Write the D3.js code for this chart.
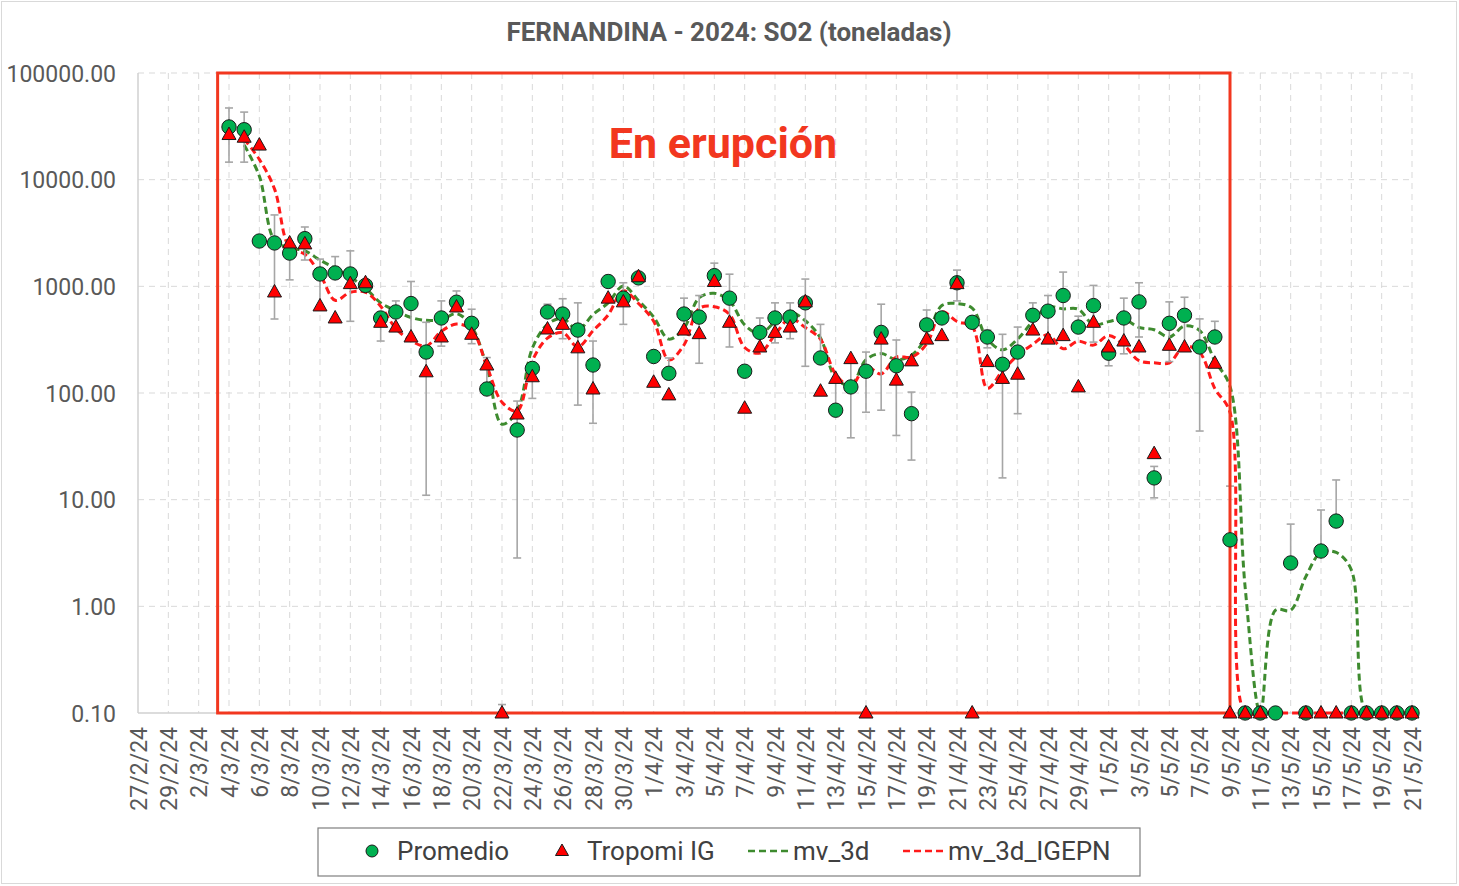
<!DOCTYPE html>
<html><head><meta charset="utf-8">
<script src="https://cdn.jsdelivr.net/npm/d3@7"></script>
<style>body{margin:0;background:#fff}svg{display:block}text{font-family:Roboto,"Liberation Sans",sans-serif}</style>
</head><body><svg id="c" width="1459" height="886"></svg>
<script>
const dates = ["4/3","5/3","6/3","7/3","8/3","9/3","10/3","11/3","12/3","13/3","14/3","15/3","16/3","17/3","18/3","19/3","20/3","21/3","22/3","23/3","24/3","25/3","26/3","27/3","28/3","29/3","30/3","31/3",
"1/4","2/4","3/4","4/4","5/4","6/4","7/4","8/4","9/4","10/4","11/4","12/4","13/4","14/4","15/4","16/4","17/4","18/4","19/4","20/4","21/4","22/4","23/4","24/4","25/4","26/4","27/4","28/4","29/4","30/4",
"1/5","2/5","3/5","4/5","5/5","6/5","7/5","8/5","9/5","10/5","11/5","12/5","13/5","14/5","15/5","16/5","17/5","18/5","19/5","20/5","21/5"];
const promedio = [31200,29400,2660,2550,2050,2800,1306,1335,1306,1020,505,575,690,242,505,710,450,109,null,45,170,575,550,389,183,1110,775,1200,
220,153,550,515,1260,775,160,370,505,515,700,213,69,114,160,370,180,64,435,505,1080,460,335,186,242,535,585,820,415,660,
236,505,715,16,450,535,270,335,4.2,0.1,0.1,0.1,2.55,0.1,3.3,6.3,0.1,0.1,0.1,0.1,0.1];
const tropomi = [26500,25000,21100,885,2550,2500,655,505,1060,1080,460,415,335,158,335,640,355,183,0.1,63.5,142,398,440,265,109,775,715,1230,
126,96,389,360,1110,460,72,270,370,415,715,104,137,210,0.1,320,132,200,320,345,1060,0.1,197,137,150,389,320,345,114,460,
270,307,270,27,280,270,null,190,0.1,0.1,0.1,null,null,0.1,0.1,0.1,0.1,0.1,0.1,0.1,0.1];
const errLow = [14600,14600,null,494,1150,1765,640,1335,470,null,307,575,307,11,275,710,290,109,0.1,2.84,89,575,323,77,52,1110,440,null,
null,153,550,190,1260,270,null,370,295,323,178,213,69,38,66,69,40,23.5,435,null,730,null,265,16,64,535,320,345,415,300,
180,233,335,10.4,197,270,44,335,4.2,null,null,null,2.55,null,3.3,6.3,null,null,null,null,null];
const errHigh = [47000,43000,null,4670,2600,3600,1800,1900,2150,null,505,730,1110,460,730,905,610,215,0.12,84,170,680,765,700,307,1260,1080,null,
null,213,775,820,1650,1300,null,505,700,700,1170,440,137,210,242,680,314,102,600,null,1420,null,389,355,415,700,820,1360,525,1020,
236,775,1080,20.5,715,790,495,470,13.4,null,null,null,5.9,null,8.0,15.3,null,null,null,null,null];
const mv3d = [null,21100,10800,2700,2300,2150,1760,1480,1220,960,700,590,510,480,486,555,420,175,51,68,263,440,500,390,545,700,1010,735,
515,320,406,780,860,732,435,360,463,573,476,327,138,118,205,234,205,226,335,660,690,625,320,254,321,470,640,615,610,437,
467,490,412,392,334,425,385,200,115,1.5,0.1,0.92,0.92,1.9,3.2,3.2,2.2,0.1,0.1,0.1,0.1];
const mv3dIGEPN = [null,24000,15500,8200,2300,2000,1300,740,880,880,650,403,310,276,378,443,393,179,82,68,201,327,368,271,383,540,907,690,
470,204,282,620,643,547,267,237,352,500,411,319,150,116,177,151,217,217,288,575,468,419,111,161,225,286,351,260,306,281,
346,282,201,192,192,275,240,110,66,0.1,0.1,0.1,0.1,0.1,0.1,0.1,0.1,0.1,0.1,0.1,0.1];
const yTicks = [0.1,1,10,100,1000,10000,100000];
const xStart = "27/2", xEnd = "21/5";
const eruption = ["2024-03-03T06:00:00Z","2024-05-09T00:00:00Z"];
const title = "FERNANDINA - 2024: SO2 (toneladas)";
const annotation = "En erupción";
const legendItems = ["Promedio","Tropomi IG","mv_3d","mv_3d_IGEPN"];

const parse = s => d3.utcParse("%d/%m/%Y")(s + "/2024");
const D = dates.map(parse);
const svg = d3.select("#c");
svg.append("rect").attr("x",1.5).attr("y",1.5).attr("width",1455).attr("height",882).attr("fill","#fff").attr("stroke","#d9d9d9");

const L = 138, R = 1412, T = 73, B = 713;
const x = d3.scaleUtc().domain([parse(xStart), parse(xEnd)]).range([L, R]);
const y = d3.scaleLog().domain([0.1, 100000]).range([B, T]);

// gridlines
const xTicks = d3.range(0, 85, 2).map(k => d3.utcDay.offset(parse(xStart), k));
const grid = svg.append("g");
grid.selectAll(".vg").data(xTicks.slice(1)).join("line")
  .attr("x1", d => x(d)).attr("x2", d => x(d)).attr("y1", T).attr("y2", B)
  .attr("stroke", "#d9d9d9").attr("stroke-dasharray", "6,5").attr("stroke-width", 1);
grid.selectAll(".hg").data(yTicks.slice(1)).join("line")
  .attr("x1", L).attr("x2", R).attr("y1", d => y(d)).attr("y2", d => y(d))
  .attr("stroke", "#d9d9d9").attr("stroke-dasharray", "6,5").attr("stroke-width", 1);
svg.append("line").attr("x1", L).attr("x2", L).attr("y1", T).attr("y2", B).attr("stroke", "#d0d0d0").attr("stroke-width", 1.5);
svg.append("line").attr("x1", L).attr("x2", R).attr("y1", B).attr("y2", B).attr("stroke", "#d0d0d0").attr("stroke-width", 1.5);

// y axis labels
const yAxis = d3.axisLeft(y).tickValues(yTicks).tickFormat(d3.format(".2f")).tickSize(0).tickPadding(22);
const ya = svg.append("g").attr("transform", `translate(${L},0)`).call(yAxis);
ya.select(".domain").remove();
ya.selectAll("text").attr("fill", "#595959").style("font-size", "23px").attr("dy", "0.35em");

// x axis labels
const xAxis = d3.axisBottom(x).tickValues(xTicks).tickFormat(d3.utcFormat("%-d/%-m/%y")).tickSize(0);
const xa = svg.append("g").attr("transform", `translate(0,${B})`).call(xAxis);
xa.select(".domain").remove();
xa.selectAll("text").attr("fill", "#595959").style("font-size", "23px")
  .attr("transform", "rotate(-90)").attr("text-anchor", "end").attr("x", -14).attr("y", 0).attr("dy", "0.36em");

// clip
svg.append("clipPath").attr("id", "clip").append("rect").attr("x", L).attr("y", T - 5).attr("width", R - L + 10).attr("height", B - T + 8);

// lines
const lineGen = arr => d3.line().defined((d, i) => arr[i] != null).x((d, i) => x(D[i])).y((d, i) => y(arr[i])).curve(d3.curveCatmullRom.alpha(0.5))(arr);
const lg = svg.append("g").attr("clip-path", "url(#clip)");
lg.append("path").attr("d", lineGen(mv3d)).attr("fill", "none").attr("stroke", "#3e8b2f").attr("stroke-width", 3).attr("stroke-dasharray", "7,4");
lg.append("path").attr("d", lineGen(mv3dIGEPN)).attr("fill", "none").attr("stroke", "#ff1a1a").attr("stroke-width", 3).attr("stroke-dasharray", "7,4");

// error bars
const eb = svg.append("g").attr("stroke", "#a6a6a6").attr("stroke-width", 1.6);
const ebIdx = d3.range(dates.length).filter(i => errLow[i] != null && errHigh[i] != null);
eb.selectAll(".v").data(ebIdx).join("line").attr("x1", i => x(D[i])).attr("x2", i => x(D[i])).attr("y1", i => y(errLow[i])).attr("y2", i => y(errHigh[i]));
eb.selectAll(".t").data(ebIdx).join("line").attr("x1", i => x(D[i]) - 4).attr("x2", i => x(D[i]) + 4).attr("y1", i => y(errHigh[i])).attr("y2", i => y(errHigh[i]));
eb.selectAll(".b").data(ebIdx).join("line").attr("x1", i => x(D[i]) - 4).attr("x2", i => x(D[i]) + 4).attr("y1", i => y(errLow[i])).attr("y2", i => y(errLow[i]));

// red rectangle annotation
svg.append("rect").attr("x", x(new Date(eruption[0]))).attr("y", y(100000))
  .attr("width", x(new Date(eruption[1])) - x(new Date(eruption[0]))).attr("height", y(0.1) - y(100000))
  .attr("fill", "none").attr("stroke", "#f2371f").attr("stroke-width", 3);

// markers
const tri = "M0,-7.5L7,5L-7,5Z";
const mk = svg.append("g");
mk.selectAll("circle").data(d3.range(dates.length).filter(i => promedio[i] != null)).join("circle")
  .attr("cx", i => x(D[i])).attr("cy", i => y(promedio[i])).attr("r", 7.2)
  .attr("fill", "#00b050").attr("stroke", "#1a1a1a").attr("stroke-width", 1);
mk.selectAll("path").data(d3.range(dates.length).filter(i => tropomi[i] != null)).join("path")
  .attr("d", tri).attr("transform", i => `translate(${x(D[i])},${y(tropomi[i])})`)
  .attr("fill", "#ff0000").attr("stroke", "#1a1a1a").attr("stroke-width", 1);

// title & annotation
svg.append("text").attr("x", 729).attr("y", 41).attr("text-anchor", "middle").attr("fill", "#595959")
  .style("font-size", "26px").style("font-weight", "bold").text(title);
svg.append("text").attr("x", 723).attr("y", 158).attr("text-anchor", "middle").attr("fill", "#f2371f")
  .style("font-size", "43px").style("font-weight", "bold").text(annotation);

// legend
const lgd = svg.append("g");
lgd.append("rect").attr("x", 318).attr("y", 828).attr("width", 822).attr("height", 48).attr("fill", "#fff").attr("stroke", "#7f7f7f").attr("stroke-width", 1.2);
const ly = 851;
lgd.append("circle").attr("cx", 372).attr("cy", ly).attr("r", 6).attr("fill", "#00b050").attr("stroke", "#1a1a1a");
lgd.append("path").attr("d", "M0,-7L6.5,4.5L-6.5,4.5Z").attr("transform", `translate(562,${ly})`).attr("fill", "#ff0000").attr("stroke", "#1a1a1a");
lgd.append("line").attr("x1", 748).attr("x2", 790).attr("y1", ly).attr("y2", ly).attr("stroke", "#3e8b2f").attr("stroke-width", 2.6).attr("stroke-dasharray", "7,4");
lgd.append("line").attr("x1", 903).attr("x2", 945).attr("y1", ly).attr("y2", ly).attr("stroke", "#ff1a1a").attr("stroke-width", 2.6).attr("stroke-dasharray", "7,4");
const lx = [397, 587, 793, 948];
legendItems.forEach((t, i) => lgd.append("text").attr("x", lx[i]).attr("y", ly).attr("dy", "0.36em").attr("fill", "#404040").style("font-size", "26px").text(t));
</script></body></html>
